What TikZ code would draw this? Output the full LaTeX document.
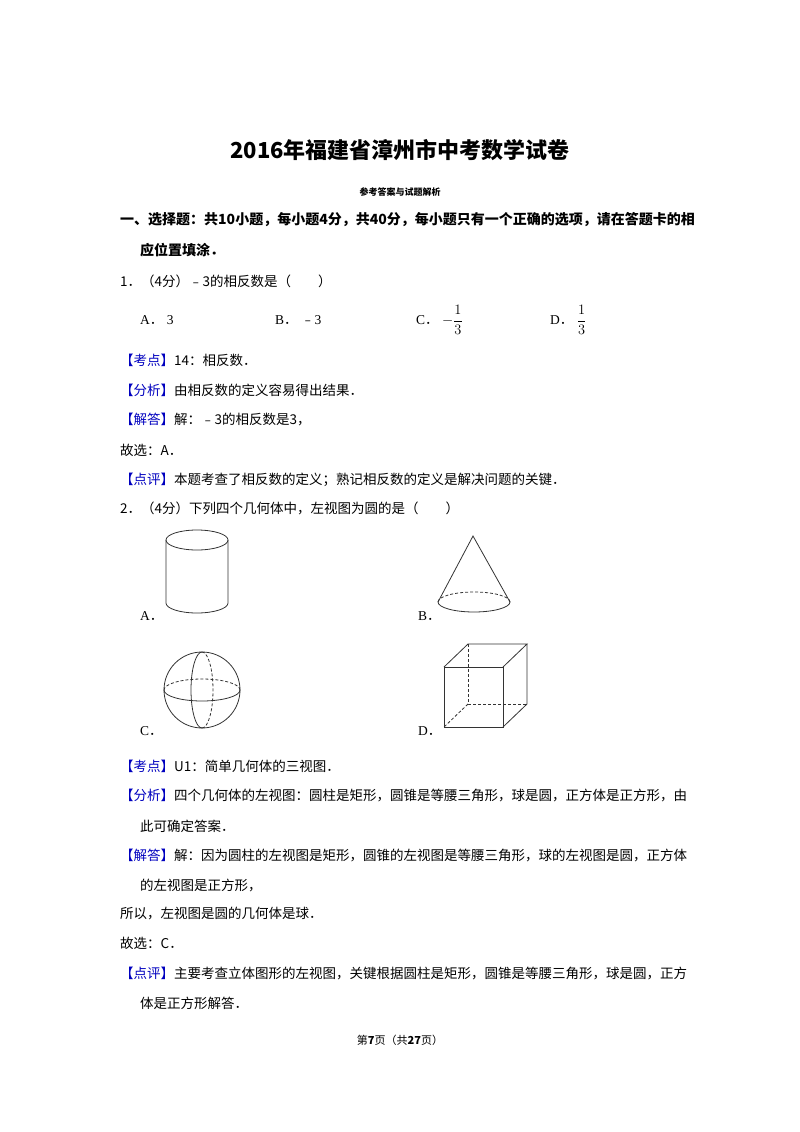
\documentclass[tikz,border=0pt]{standalone}
\usepackage{amsmath}
\usepackage{fontspec}
\setmainfont{Liberation Serif}
\newfontfamily\cjk{Noto Sans CJK SC}
\begin{document}
\begin{tikzpicture}[x=1pt,y=-1pt,
  txt/.style={anchor=west,inner sep=0pt,font=\fontsize{13.5}{14}\cjk},
  bt/.style={anchor=west,inner sep=0pt,font=\fontsize{14}{15}\cjk\bfseries},
  lbl/.style={anchor=west,inner sep=0pt,font=\fontsize{13.5}{14}\selectfont},
  fig/.style={line width=0.8pt,draw=black!80},
  hid/.style={line width=0.8pt,draw=black!80,dash pattern=on 3pt off 2pt}]
\useasboundingbox[fill=white] (0,0) rectangle (800,1132);
\def\kd#1{{\color{blue!75!black}【#1】}}
\def\pd{{\cjk ．}}
\node[inner sep=0pt,font=\fontsize{22}{24}\cjk\bfseries] (title) at (400,150) {2016年福建省漳州市中考数学试卷};
\node[inner sep=0pt,font=\fontsize{9}{10}\cjk\bfseries] (sub) at (400,192) {参考答案与试题解析};
\node[bt] (s1) at (120,220) {一、选择题：共10小题，每小题4分，共40分，每小题只有一个正确的选项，请在答题卡的相};
\node[bt] (s1b) at (140,250) {应位置填涂．};
\node[txt] (q1) at (120,281) {1．（4分）﹣3的相反数是（　　）};
\node[lbl] (a1) at (140,320) {A\pd\ 3};
\node[lbl] (b1) at (275,320) {B\pd\ {\cjk ﹣}3};
\node[lbl] (c1) at (416,320) {C\pd\ $-\dfrac{1}{3}$};
\node[lbl] (d1) at (550,320) {D\pd\ $\dfrac{1}{3}$};
\node[txt] (k1) at (120,360) {\kd{考点}14：相反数．};
\node[txt] (f1) at (120,390) {\kd{分析}由相反数的定义容易得出结果．};
\node[txt] (j1) at (120,420) {\kd{解答}解：﹣3的相反数是3，};
\node[txt] (g1) at (120,450) {故选：A．};
\node[txt] (p1) at (120,480) {\kd{点评}本题考查了相反数的定义；熟记相反数的定义是解决问题的关键．};
\node[txt] (q2) at (120,508) {2．（4分）下列四个几何体中，左视图为圆的是（　　）};
% cylinder
\draw[fig] (197,540) ellipse (31 and 10);
\draw[fig] (166,540) -- (166,603) arc (180:0:31 and 10) -- (228,540);
% cone
\draw[fig] (438,602) -- (473,536) -- (510,602);
\draw[fig] (438,602) arc (180:0:36 and 10);
\draw[hid] (510,602) arc (0:-180:36 and 10);
% sphere
\draw[fig] (202,690) circle (38);
\draw[fig] (164,690) arc (180:0:38 and 11);
\draw[hid] (240,690) arc (0:-180:38 and 11);
\draw[fig] (202,652) arc (-90:-270:11 and 38);
\draw[hid] (202,728) arc (90:-90:11 and 38);
% cube
\draw[fig] (444,667) rectangle (503,727);
\draw[fig] (444,667) -- (468,644) -- (527,644) -- (503,667);
\draw[fig] (527,644) -- (527,704) -- (503,727);
\draw[hid] (468,644) -- (468,704) -- (527,704);
\draw[hid] (468,704) -- (444,727);
\node[lbl] (la) at (140,616) {A\pd};
\node[lbl] (lb) at (418,616) {B\pd};
\node[lbl] (lc) at (140,731) {C\pd};
\node[lbl] (ld) at (418,731) {D\pd};
\node[txt] (k2) at (120,766) {\kd{考点}U1：简单几何体的三视图．};
\node[txt] (f2) at (120,796) {\kd{分析}四个几何体的左视图：圆柱是矩形，圆锥是等腰三角形，球是圆，正方体是正方形，由};
\node[txt] (f2b) at (140,826) {此可确定答案．};
\node[txt] (j2) at (120,856) {\kd{解答}解：因为圆柱的左视图是矩形，圆锥的左视图是等腰三角形，球的左视图是圆，正方体};
\node[txt] (j2b) at (140,886) {的左视图是正方形，};
\node[txt] (s2) at (120,914) {所以，左视图是圆的几何体是球．};
\node[txt] (g2) at (120,943) {故选：C．};
\node[txt] (p2) at (120,973) {\kd{点评}主要考查立体图形的左视图，关键根据圆柱是矩形，圆锥是等腰三角形，球是圆，正方};
\node[txt] (p2b) at (140,1003) {体是正方形解答．};
\node[inner sep=0pt,font=\fontsize{11}{12}\cjk] (foot) at (400,1040) {第\textbf{7}页（共\textbf{27}页）};
\end{tikzpicture}
\end{document}
